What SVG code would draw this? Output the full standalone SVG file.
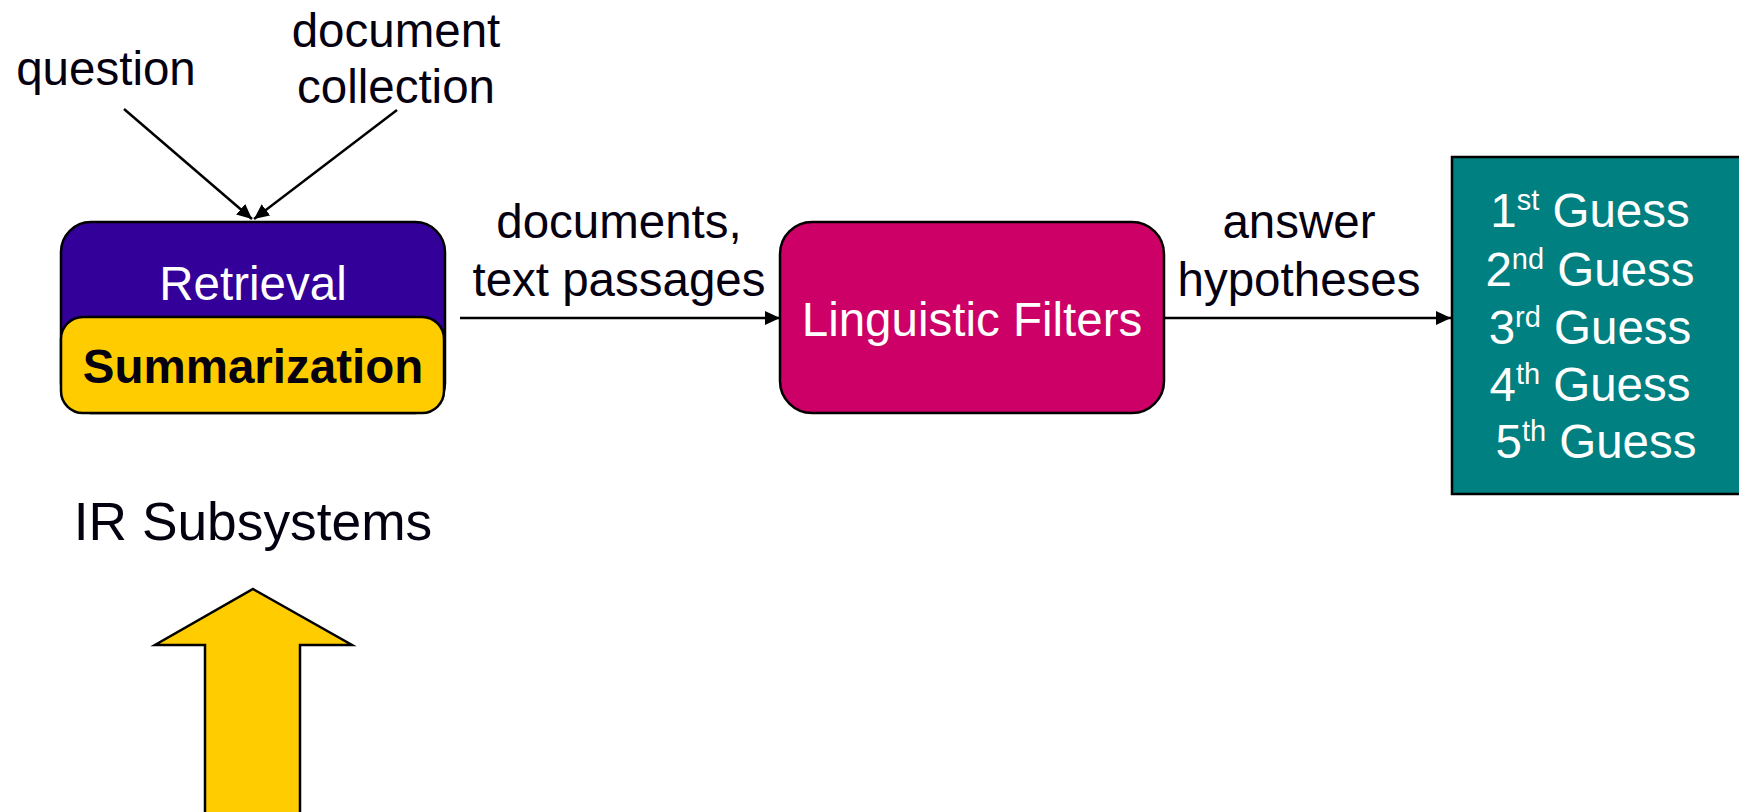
<svg xmlns="http://www.w3.org/2000/svg" width="1739" height="812" viewBox="0 0 1739 812">
<style>
text{font-family:"Liberation Sans",Arial,sans-serif;font-size:47.5px;fill:#05000f}
text.big{font-size:53.3px}
.w{fill:#ffffff}
.c{text-anchor:middle}
.edge{stroke:#000;stroke-width:2.5;fill:none}
.box{stroke:#000;stroke-width:2.5}
</style>
<defs>
<marker id="ah" markerWidth="15" markerHeight="14" refX="15" refY="7" orient="auto" markerUnits="userSpaceOnUse">
<path d="M0,0 L15,7 L0,14 Z" fill="#000"/>
</marker>
</defs>
<g id="connectors">
<line class="edge" x1="124" y1="109" x2="252" y2="219" marker-end="url(#ah)"/>
<line class="edge" x1="397" y1="110" x2="254" y2="219" marker-end="url(#ah)"/>
<line class="edge" x1="460" y1="318" x2="780" y2="318" marker-end="url(#ah)"/>
<line class="edge" x1="1164" y1="318" x2="1451" y2="318" marker-end="url(#ah)"/>
</g>
<g id="label-question"><text class="c" x="106" y="85">question</text></g>
<g id="label-collection"><text class="c" x="396" y="47">document</text><text class="c" x="396" y="103">collection</text></g>
<g id="label-documents"><text class="c" x="619" y="238">documents,</text><text class="c" x="619" y="296">text passages</text></g>
<g id="label-answer"><text class="c" x="1299" y="238">answer</text><text class="c" x="1299" y="296">hypotheses</text></g>
<g id="node-ir">
<rect class="box" x="61" y="222" width="384" height="191" rx="30" fill="#330099"/>
<rect class="box" x="61" y="317" width="383" height="96" rx="22" fill="#ffcc00"/>
<text class="c w" x="253" y="300">Retrieval</text>
<text class="c" x="253" y="383" font-weight="bold">Summarization</text>
</g>
<g id="node-filters">
<rect class="box" x="780" y="222" width="384" height="191" rx="32" fill="#cc0066"/>
<text class="c w" x="972" y="336">Linguistic Filters</text>
</g>
<g id="node-guesses">
<rect class="box" x="1452" y="157" width="300" height="337" fill="#008080"/>
<text class="c w" x="1590" y="227">1<tspan font-size="29" dy="-17">st</tspan><tspan dy="17"> Guess</tspan></text>
<text class="c w" x="1590" y="286">2<tspan font-size="29" dy="-17">nd</tspan><tspan dy="17"> Guess</tspan></text>
<text class="c w" x="1590" y="344">3<tspan font-size="29" dy="-17">rd</tspan><tspan dy="17"> Guess</tspan></text>
<text class="c w" x="1590" y="401">4<tspan font-size="29" dy="-17">th</tspan><tspan dy="17"> Guess</tspan></text>
<text class="c w" x="1596" y="458">5<tspan font-size="29" dy="-17">th</tspan><tspan dy="17"> Guess</tspan></text>
</g>
<g id="label-ir"><text class="c big" x="253" y="540">IR Subsystems</text></g>
<g id="big-arrow">
<path d="M253,589 L352,645 L300,645 L300,820 L205,820 L205,645 L155,645 Z" fill="#ffcc00" stroke="#000" stroke-width="2.5" stroke-linejoin="miter"/>
</g>
</svg>
